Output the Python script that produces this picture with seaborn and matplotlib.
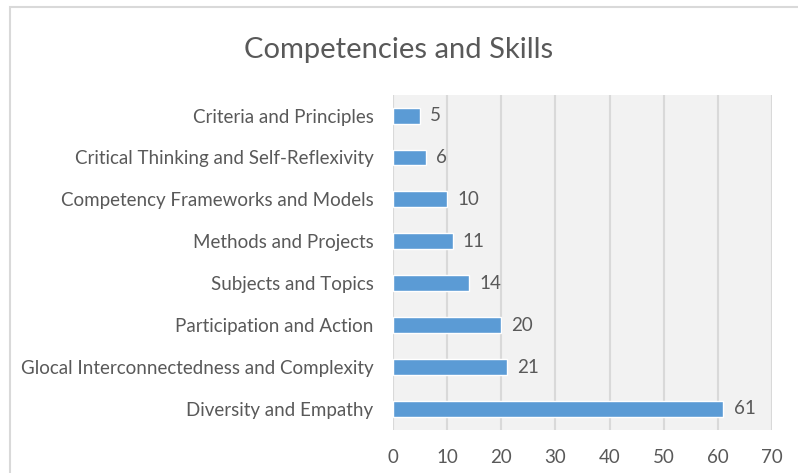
import pandas as pd
import matplotlib.pyplot as plt
import seaborn as sns

categories = ['Criteria and Principles', 'Critical Thinking and Self-Reflexivity',
              'Competency Frameworks and Models', 'Methods and Projects',
              'Subjects and Topics', 'Participation and Action',
              'Glocal Interconnectedness and Complexity', 'Diversity and Empathy']
counts = [5, 6, 10, 11, 14, 20, 21, 61]
x_ticks = [0, 10, 20, 30, 40, 50, 60, 70]

df = pd.DataFrame({'category': categories, 'count': counts})

sns.set_style('white')
plt.rcParams['font.family'] = ['Lato', 'DejaVu Sans']
text_color = '#595959'

fig = plt.figure(figsize=(7.98, 4.73), dpi=100)
# light frame like the spreadsheet chart border
fig.patches.append(plt.Rectangle((0.012, -0.01), 1.0, 0.995, transform=fig.transFigure,
                                 fill=False, edgecolor='#d9d9d9', linewidth=1.5))
ax = fig.add_axes([0.4925, 0.091, 0.475, 0.709])
ax.set_facecolor('#f2f2f2')

sns.barplot(data=df, x='count', y='category', color='#5b9bd5', width=0.38,
            saturation=1, ax=ax, zorder=3)

for i, v in enumerate(counts):
    ax.text(v + 1.9, i, str(v), va='center', ha='left', fontsize=13.5, color=text_color)

ax.set_xlim(0, 70)
ax.set_xticks(x_ticks)
ax.xaxis.grid(True, color='#d9d9d9', linewidth=1.5, zorder=0)
ax.set_axisbelow(True)
for s in ax.spines.values():
    s.set_visible(False)
ax.tick_params(axis='both', length=0, labelsize=13.5, colors=text_color)
ax.tick_params(axis='y', pad=14)
ax.tick_params(axis='x', pad=14)
ax.set_xlabel('')
ax.set_ylabel('')
fig.suptitle('Competencies and Skills', y=0.922, fontsize=21, color=text_color)

fig.savefig('out.png', dpi=100)
